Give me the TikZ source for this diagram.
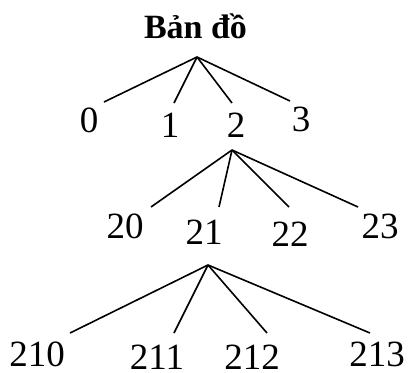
\documentclass[tikz,border=0pt]{standalone}
\usepackage{fontspec}
\setmainfont{Liberation Serif}
\begin{document}
\begin{tikzpicture}[x=1pt,y=-1pt,
  lbl/.style={inner sep=0pt,font=\fontsize{37}{37}\selectfont},
  ttl/.style={inner sep=0pt,font=\fontsize{34}{34}\selectfont\bfseries},
  edge/.style={line width=1.6pt}]
\useasboundingbox (0,0) rectangle (409,372);
% title
\node[ttl,anchor=base] (title) at (195.5,38) {Bản đồ};
% level 1
\coordinate (a1) at (197,57);
\coordinate (e0) at (104,102);
\coordinate (e1) at (174,103);
\coordinate (e2) at (232,103);
\coordinate (e3) at (290,101);
\node[lbl] (n0) at (89,120) {0};
\node[lbl] (n1) at (170,125) {1};
\node[lbl] (n2) at (236,125) {2};
\node[lbl] (n3) at (301,119) {3};
\foreach \e in {e0,e1,e2,e3} \draw[edge] (a1) -- (\e);
% level 2
\coordinate (a2) at (232,150);
\coordinate (e20) at (151,207);
\coordinate (e21) at (219,207);
\coordinate (e22) at (289,207);
\coordinate (e23) at (358,207);
\node[lbl] (n20) at (125,226) {20};
\node[lbl] (n21) at (204,232) {21};
\node[lbl] (n22) at (290,234) {22};
\node[lbl] (n23) at (380,226) {23};
\foreach \e in {e20,e21,e22,e23} \draw[edge] (a2) -- (\e);
% level 3
\coordinate (a3) at (208,265);
\coordinate (e210) at (70,333);
\coordinate (e211) at (174,333);
\coordinate (e212) at (267,333);
\coordinate (e213) at (370,333);
\node[lbl] (n210) at (37,354) {210};
\node[lbl] (n211) at (157,357) {211};
\node[lbl] (n212) at (252,357) {212};
\node[lbl] (n213) at (377,354) {213};
\foreach \e in {e210,e211,e212,e213} \draw[edge] (a3) -- (\e);
\end{tikzpicture}
\end{document}
